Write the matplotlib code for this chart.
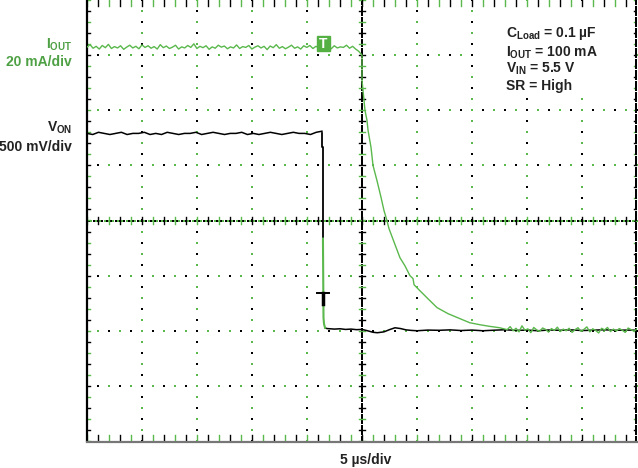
import numpy as np
import matplotlib
matplotlib.use('Agg')
import matplotlib.pyplot as plt
from matplotlib.patches import Rectangle

plt.rcParams['font.family'] = ['Liberation Sans', 'DejaVu Sans']
plt.rcParams['font.weight'] = 'bold'
plt.rcParams['mathtext.fontset'] = 'custom'
plt.rcParams['mathtext.rm'] = 'Liberation Sans:bold'
plt.rcParams['mathtext.it'] = 'Liberation Sans:bold'
plt.rcParams['mathtext.bf'] = 'Liberation Sans:bold'

# ---- scope settings ----
TIME_PER_DIV = 5.0      # µs/div
IOUT_PER_DIV = 20.0     # mA/div
VON_PER_DIV = 0.5       # V/div
IOUT_OFFSET = -2.0      # div
VON_OFFSET = -2.0       # div
TRIG_T = -3.5           # µs, trigger position

# ---- I_OUT (mA) ----
iout_flat = [102.9, 103.8, 102.5, 103.2, 102.2, 103.5, 102.7, 103.9, 102.4, 103.1,
             102.6, 103.4, 102.1, 102.9, 103.6, 102.6, 103.2, 102.3, 103.7, 102.8,
             103.4, 102.5, 103.1, 102.2, 103.8, 102.7, 103.3, 102.4, 102.9, 103.6,
             102.2, 103.0, 102.6, 103.5, 102.8, 104.1, 102.4, 103.2, 102.7, 103.4,
             102.1, 103.0, 102.5, 103.6, 102.9, 103.3, 102.3, 103.0, 102.6, 103.7,
             102.4, 103.1, 102.8, 103.5, 102.2, 102.9, 103.4, 102.6, 103.2, 102.0,
             103.3, 102.7, 103.8, 102.5, 103.1, 102.3, 102.9, 103.6, 102.5, 103.0,
             102.2, 103.4, 102.8, 103.5, 102.4, 103.2, 102.6, 103.9, 102.7, 103.1,
             102.3, 103.4, 102.6, 103.0, 102.8, 103.6, 102.5, 103.2, 102.2, 101.4]
iout_decay_t = [0.0, 0.0, 0.27, 0.45, 0.55, 0.82, 1.0, 1.36, 1.73, 2.0, 2.27, 2.45,
                3.45, 3.9, 4.36, 4.64, 4.73, 5.27, 6.0, 6.82, 7.82, 8.9, 9.8, 10.7,
                11.6, 12.5]
iout_decay = [100.0, 90.9, 80.0, 76.4, 72.7, 66.5, 60.0, 54.5, 48.4, 43.6, 40.0, 37.1,
              26.5, 23.6, 20.0, 18.9, 16.7, 14.5, 11.6, 8.4, 6.2, 4.4, 2.9, 2.2,
              1.6, 1.1]
iout_tail = [0.4, 1.5, 0.0, 0.9, -0.4, 1.8, 0.2, 0.7, -0.7, 1.2, 0.3, -0.2, 1.0, 0.5,
             -0.5, 0.8, 0.1, 1.3, -0.3, 0.6, 0.0, 0.9, -0.6, 0.4, 1.1, -0.2, 0.5,
             1.4, -0.4, 0.7, 0.1, -0.8, 0.9, 0.3, 1.2, -0.3, 0.6, -0.1, 0.8, 0.2,
             -0.6, 1.0, 0.4, -0.2, 0.7]

# ---- V_ON (V) ----
von_flat = [1.79, 1.78, 1.80, 1.79, 1.78, 1.79, 1.80, 1.78, 1.79, 1.79, 1.80, 1.78,
            1.79, 1.78, 1.80, 1.79, 1.78, 1.79, 1.79, 1.80, 1.78, 1.79, 1.80, 1.79,
            1.78, 1.79, 1.79, 1.80, 1.78, 1.79, 1.78, 1.79, 1.80, 1.79, 1.78, 1.79,
            1.80, 1.79, 1.79, 1.78, 1.80, 1.81]
von_drop_t = [-3.64, -3.64, -3.55, -3.55]
von_drop = [1.79, 1.67, 1.67, 0.836]
von_green_t = [-3.55, -3.5, -3.45, -3.36]
von_green = [0.836, 0.118, 0.06, 0.027]
von_tail_t = [-3.36, -3.2, -2.5, -2.0, -1.5, -1.0, -0.5, 0.0, 0.5, 1.0, 1.4, 2.0, 2.5,
              3.0, 3.5, 4.0, 4.5, 5.0, 6.0, 7.0, 8.0, 9.0, 10.0, 11.0, 12.0, 13.0,
              14.0, 15.0, 16.0, 17.0, 18.0, 19.0, 20.0, 21.0, 22.0, 23.0, 24.0, 25.0]
von_tail = [0.027, 0.02, 0.015, 0.018, 0.012, 0.015, 0.01, 0.012, 0.0, -0.014, -0.018,
            -0.01, 0.01, 0.027, 0.02, 0.008, 0.003, 0.0, 0.006, 0.004, 0.008, 0.002,
            0.006, 0.0, 0.005, 0.009, 0.003, 0.006, 0.0, 0.007, 0.004, 0.008, 0.002,
            0.005, 0.009, 0.004, 0.006, 0.005]

GREEN = '#5ab84c'
TXT_GREEN = '#4ea044'
DARK = '#222222'

fig = plt.figure(figsize=(6.38, 4.68), dpi=100)
ax = fig.add_axes([87 / 638, (468 - 441) / 468, 550 / 638, 441 / 468])
ax.set_xlim(-5 * TIME_PER_DIV, 5 * TIME_PER_DIV)
ax.set_ylim(-4, 4)
ax.set_axis_off()

# ---- graticule ----
ms = 1.5
def dots(xs, ys, colors):
    for c in set(colors):
        idx = [i for i, cc in enumerate(colors) if cc == c]
        ax.plot(np.asarray(xs)[idx], np.asarray(ys)[idx], 's', ms=ms, mew=0,
                color=c, zorder=1)

sub_y = np.arange(-4, 4.001, 0.2)
sub_x = np.arange(-25, 25.001, 1.0)
for k in range(-4, 5):
    if k == 0:
        continue
    xs = np.full_like(sub_y, 5.0 * k)
    cols = ['k' if (j + k) % 2 == 0 else GREEN for j in range(len(sub_y))]
    dots(xs, sub_y, cols)
for k in range(-3, 4):
    if k == 0:
        continue
    ys = np.full_like(sub_x, float(k))
    cols = ['k' if (j + k) % 2 == 0 else GREEN for j in range(len(sub_x))]
    dots(sub_x, ys, cols)

# center cross
fine_y = np.arange(-4, 4.001, 0.04)
dots(np.zeros_like(fine_y), fine_y, ['k'] * len(fine_y))
fine_x = np.arange(-25, 25.001, 0.2)
dots(fine_x, np.zeros_like(fine_x), ['k' if i % 2 else GREEN for i in range(len(fine_x))])
for j, yy in enumerate(sub_y):
    ax.plot([-0.28, 0.28], [yy, yy], color='k' if j % 2 else GREEN, lw=1.0, zorder=1)
for j, xx in enumerate(sub_x):
    ax.plot([xx, xx], [-0.06, 0.06], color='k' if j % 2 else GREEN, lw=1.0, zorder=1)

# edge ticks
for j, yy in enumerate(sub_y):
    c = 'k' if j % 2 else GREEN
    ax.plot([-25, -24.7], [yy, yy], color=c, lw=1.0, zorder=1)
    ax.plot([24.7, 25], [yy, yy], color=c, lw=1.0, zorder=1)
for j, xx in enumerate(sub_x):
    c = 'k' if j % 2 else GREEN
    ax.plot([xx, xx], [-4, -3.9], color=c, lw=1.0, zorder=1)
    ax.plot([xx, xx], [3.9, 4], color=c, lw=1.0, zorder=1)

ax.plot([-25, -25], [-4, 4], color='k', lw=1.6, zorder=3, clip_on=False)
ax.plot([-25, 25], [-4.01, -4.01], color='#777777', lw=1.6, zorder=3, clip_on=False)
dots(np.full_like(fine_y, 24.95), fine_y, ['k'] * len(fine_y))

# white panel behind the info block
fig.patches.append(Rectangle((475 / 638, 1 - 97 / 468), 153 / 638, 89 / 468,
                             transform=fig.transFigure, facecolor='white',
                             edgecolor='none', zorder=2))

# ---- traces ----
def to_div_i(v):
    return np.asarray(v) / IOUT_PER_DIV + IOUT_OFFSET

def to_div_v(v):
    return np.asarray(v) / VON_PER_DIV + VON_OFFSET

t_iflat = np.linspace(-25, -0.3, len(iout_flat))
t_itail = np.linspace(13.2, 25, len(iout_tail))
t_iout = np.concatenate([t_iflat, iout_decay_t, t_itail])
i_all = np.concatenate([iout_flat, iout_decay, iout_tail])

t_vflat = np.linspace(-25, -3.64, len(von_flat))
ax.plot(t_vflat, to_div_v(von_flat), color='k', lw=1.1, zorder=4)
ax.plot(von_drop_t, to_div_v(von_drop), color='k', lw=1.3, zorder=4)
ax.plot(von_tail_t, to_div_v(von_tail), color='k', lw=1.1, zorder=4)
ax.plot(t_iout, to_div_i(i_all), color=GREEN, lw=1.0, zorder=5)
ax.plot(von_green_t, to_div_v(von_green), color=GREEN, lw=1.5, zorder=5)

# trigger markers
ax.plot([-4.09, -3.0], [-1.31, -1.31], color='k', lw=1.4, zorder=6)
ax.plot([-3.55, -3.55], [-1.31, -1.51], color='k', lw=2.5, zorder=6)
ax.add_patch(Rectangle((TRIG_T - 0.6, 3.07), 1.2, 0.28, color='#55b043', zorder=6))
ax.text(TRIG_T, 3.21, 'T', color='white', fontsize=10, ha='center', va='center',
        fontweight='bold', zorder=7)

# ---- text ----
fig.text(72 / 638, 1 - 45 / 468, r'I$_{\mathrm{OUT}}$', color=TXT_GREEN, fontsize=10,
         ha='right', va='center')
fig.text(72 / 638, 1 - 62 / 468, '20 mA/div', color=TXT_GREEN, fontsize=10,
         ha='right', va='center')
fig.text(72 / 638, 1 - 128 / 468, r'V$_{\mathrm{ON}}$', color=DARK, fontsize=10,
         ha='right', va='center')
fig.text(72 / 638, 1 - 147 / 468, '500 mV/div', color=DARK, fontsize=10,
         ha='right', va='center')

info = [r'C$_{\mathrm{Load}}$ = 0.1 µF', r'I$_{\mathrm{OUT}}$ = 100 mA',
        r'V$_{\mathrm{IN}}$ = 5.5 V', 'SR = High']
for s, yy in zip(info, [34, 53, 69, 86]):
    fig.text(506 / 638, 1 - yy / 468, s, color=DARK, fontsize=10, ha='left',
             va='center', zorder=10)

fig.text(366 / 638, 1 - 460 / 468, '5 µs/div', color=DARK, fontsize=10,
         ha='center', va='center')

fig.savefig('out.png', dpi=100, facecolor='white')
